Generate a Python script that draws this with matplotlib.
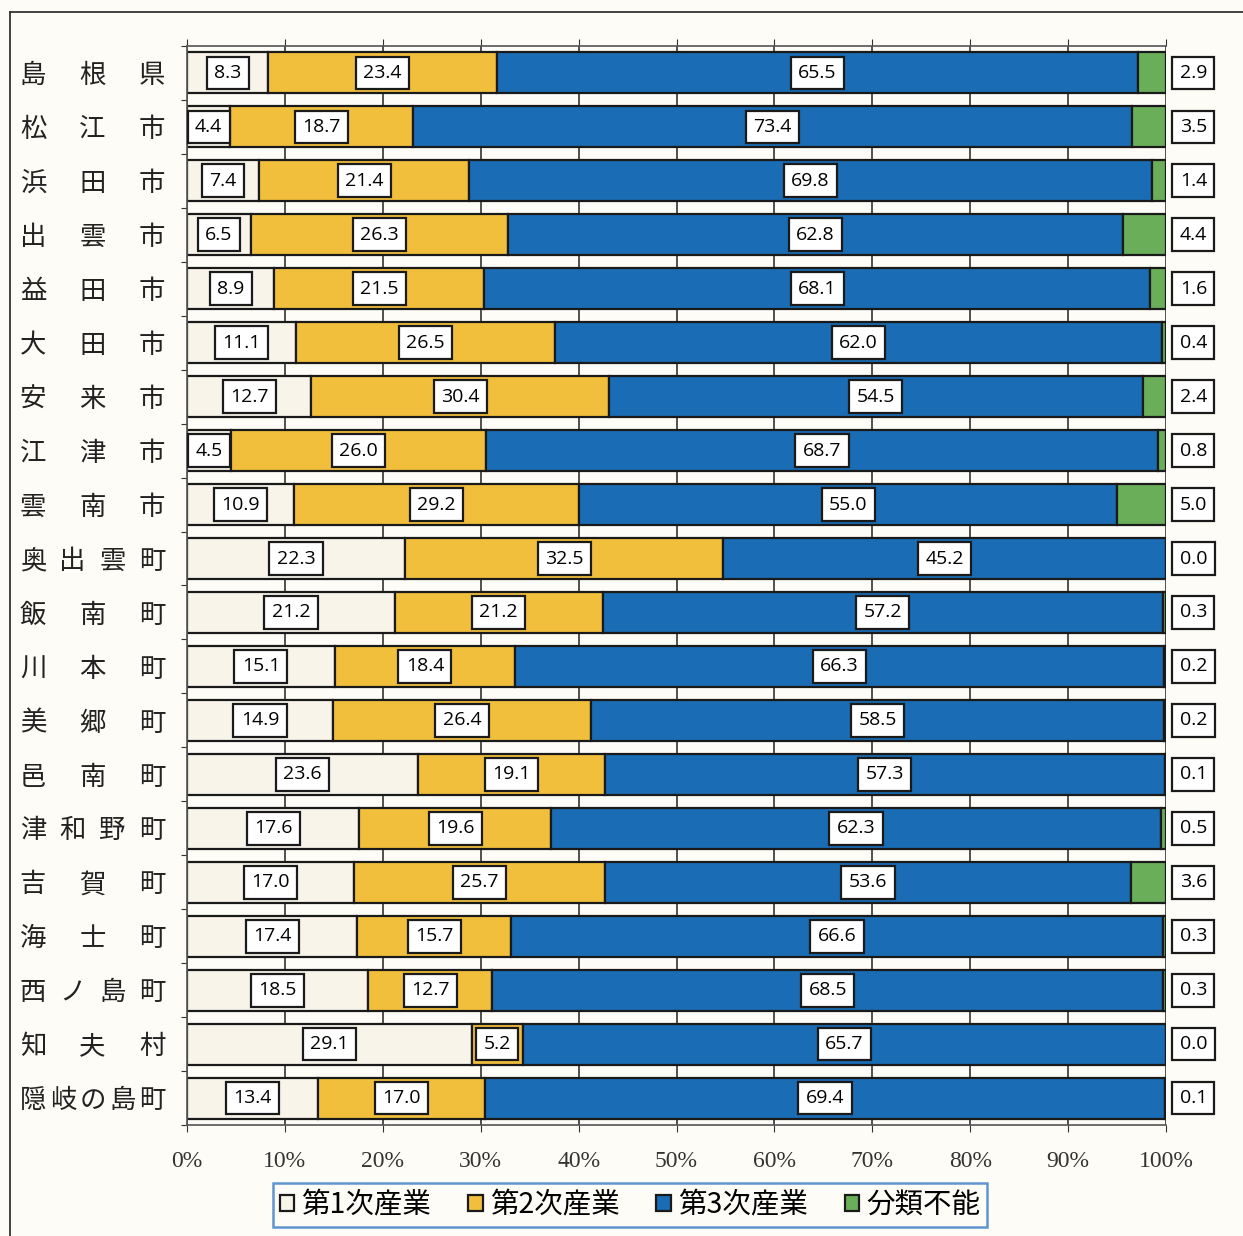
import numpy as np
import matplotlib.pyplot as plt
from matplotlib.transforms import blended_transform_factory
from matplotlib.patches import Patch
from matplotlib.lines import Line2D

plt.rcParams['font.family'] = ['Noto Sans CJK JP', 'DejaVu Sans']

areas = ['島根県', '松江市', '浜田市', '出雲市', '益田市', '大田市', '安来市', '江津市', '雲南市',
         '奥出雲町', '飯南町', '川本町', '美郷町', '邑南町', '津和野町', '吉賀町', '海士町',
         '西ノ島町', '知夫村', '隠岐の島町']
primary = [8.3, 4.4, 7.4, 6.5, 8.9, 11.1, 12.7, 4.5, 10.9, 22.3, 21.2, 15.1, 14.9, 23.6, 17.6,
           17.0, 17.4, 18.5, 29.1, 13.4]
secondary = [23.4, 18.7, 21.4, 26.3, 21.5, 26.5, 30.4, 26.0, 29.2, 32.5, 21.2, 18.4, 26.4, 19.1,
             19.6, 25.7, 15.7, 12.7, 5.2, 17.0]
tertiary = [65.5, 73.4, 69.8, 62.8, 68.1, 62.0, 54.5, 68.7, 55.0, 45.2, 57.2, 66.3, 58.5, 57.3,
            62.3, 53.6, 66.6, 68.5, 65.7, 69.4]
unclassified = [2.9, 3.5, 1.4, 4.4, 1.6, 0.4, 2.4, 0.8, 5.0, 0.0, 0.3, 0.2, 0.2, 0.1, 0.5, 3.6,
                0.3, 0.3, 0.0, 0.1]
series_names = ['第1次産業', '第2次産業', '第3次産業', '分類不能']
colors = ['#f8f4ea', '#f2bf3c', '#1a6db5', '#6aae5a']

data = np.array([primary, secondary, tertiary, unclassified])
shares = data / data.sum(axis=0) * 100  # 100% stacked

bg = '#fdfcf7'
fig = plt.figure(figsize=(12.43, 12.36), dpi=100, facecolor=bg)
ax = fig.add_axes([187 / 1243, 1 - 1125 / 1236, 979 / 1243, 1079 / 1236])
ax.set_facecolor(bg)

box = dict(boxstyle='square,pad=0.38', fc='white', ec='#1a1a1a', lw=1.6)

y = np.arange(len(areas))
left = np.zeros(len(areas))
for k in range(4):
    ax.barh(y, shares[k], left=left, height=0.76, color=colors[k], edgecolor='#1a1a1a',
            linewidth=1.6, zorder=2)
    if k < 3:
        for i in range(len(areas)):
            ax.text(left[i] + shares[k][i] / 2, y[i], f'{data[k][i]:.1f}', ha='center',
                    va='center', fontsize=14, family='Open Sans', zorder=4, bbox=box)
    left += shares[k]

# 分類不能 values sit outside the bars on the right
for i in range(len(areas)):
    ax.text(102.8, y[i], f'{data[3][i]:.1f}', ha='center', va='center', fontsize=14,
            family='Open Sans', clip_on=False, bbox=box)

ax.set_xlim(0, 100)
ax.set_ylim(len(areas) - 0.5, -0.5)
ax.set_xticks(np.arange(0, 101, 10))
ax.set_xticklabels([f'{v}%' for v in range(0, 101, 10)], family='Liberation Serif',
                   fontsize=17, color='#333333')
ax.tick_params(axis='x', length=5, pad=14, color='#333333', top=True)
ax.set_yticks(np.arange(-0.5, len(areas), 1))
ax.set_yticklabels([])
ax.tick_params(axis='y', length=4, color='#333333')
ax.grid(axis='x', color='#333333', linewidth=1.2, zorder=0)
ax.set_axisbelow(True)
for s in ['top', 'bottom', 'left']:
    ax.spines[s].set_color('#555555')
    ax.spines[s].set_linewidth(1.2)
ax.spines['right'].set_visible(False)

# area names, characters spread evenly across the label column
tr = blended_transform_factory(fig.transFigure, ax.transData)
for i, name in enumerate(areas):
    xs = np.linspace(33, 152, len(name))
    for ch, xp in zip(name, xs):
        ax.text(xp / 1243, y[i] + 0.05, ch, transform=tr, ha='center', va='center', fontsize=19,
                color='#222222', clip_on=False)

handles = [Patch(facecolor=c, edgecolor='#1a1a1a', linewidth=1.6) for c in colors]
leg = fig.legend(handles, series_names, loc='center', ncol=4,
                 bbox_to_anchor=(630 / 1243, 1 - 1205 / 1236), fontsize=20.5, frameon=True,
                 fancybox=False, handlelength=0.5, handleheight=0.5, handletextpad=0.25,
                 columnspacing=1.3, borderpad=0.25, borderaxespad=0)
leg.get_frame().set_edgecolor('#3a7cc4')
leg.get_frame().set_linewidth(1.8)
leg.get_frame().set_facecolor(bg)

# outer frame
fig.add_artist(Line2D([10 / 1243, 10 / 1243], [0, 1 - 12 / 1236], transform=fig.transFigure,
                      color='#333333', linewidth=1.3))
fig.add_artist(Line2D([10 / 1243, 1], [1 - 12 / 1236, 1 - 12 / 1236], transform=fig.transFigure,
                      color='#333333', linewidth=1.3))

fig.savefig('out.png', dpi=100, facecolor=bg)
